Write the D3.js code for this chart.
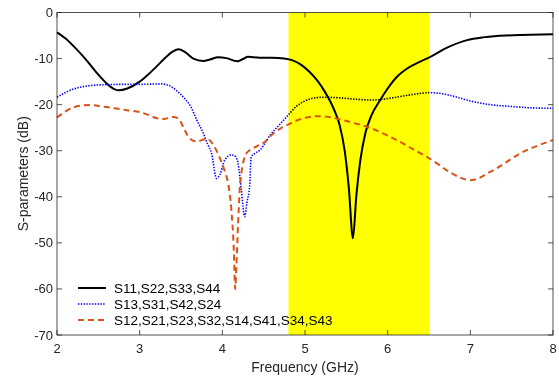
<!DOCTYPE html>
<html>
<head>
<meta charset="utf-8">
<script src="https://d3js.org/d3.v7.min.js"></script>
<style>
  body { margin: 0; background: #fff; }
  text { font-family: "Liberation Sans", Arial, sans-serif; }
</style>
</head>
<body>
<svg id="chart" width="559" height="376"></svg>
<script>
// values (GHz, dB)
const s11Freq = [2.0,2.1,2.2,2.3,2.4,2.5,2.6,2.7,2.75,2.85,3.0,3.1,3.2,3.3,3.4,3.47,3.55,3.65,3.77,3.85,3.95,4.05,4.18,4.25,4.31,4.45,4.6,4.75,4.85,4.95,5.05,5.15,5.25,5.35,5.42,5.48,5.53,5.58,5.62,5.67,5.73,5.8,5.91,6.0,6.11,6.25,6.4,6.51,6.7,6.96,7.15,7.32,7.6,8.0];
const s11Vals = [-4.3,-5.6,-7.3,-9.2,-11.3,-13.5,-15.4,-16.7,-16.9,-16.5,-15.0,-13.5,-11.8,-10.0,-8.5,-8.0,-8.6,-10.0,-10.5,-10.2,-9.7,-9.9,-10.6,-10.1,-9.6,-9.8,-9.8,-10.0,-10.4,-11.3,-12.8,-14.8,-17.5,-21.0,-24.5,-30,-38,-49,-40,-32,-26.2,-22.5,-19.0,-16.5,-14.0,-12.0,-10.6,-9.7,-7.8,-6.0,-5.4,-5.1,-4.9,-4.7];

const s13Freq = [2.0,2.1,2.2,2.35,2.52,2.8,3.0,3.25,3.35,3.45,3.55,3.62,3.69,3.77,3.82,3.87,3.93,3.97,4.03,4.11,4.16,4.19,4.23,4.27,4.30,4.33,4.35,4.40,4.46,4.52,4.58,4.7,4.8,4.9,5.0,5.1,5.22,5.4,5.6,5.8,5.95,6.1,6.3,6.5,6.65,6.8,7.0,7.2,7.5,7.75,8.0];
const s13Vals = [-18.4,-17.4,-16.6,-16.0,-15.7,-15.6,-15.6,-15.5,-15.8,-17.0,-18.8,-20.5,-23.3,-26.2,-28.5,-30.6,-36.0,-35.2,-32.0,-30.9,-31.3,-32.7,-38.5,-44.3,-41,-37.8,-31.3,-30.5,-29.8,-28.2,-26.6,-24.2,-22.2,-20.3,-19.2,-18.6,-18.4,-18.5,-18.8,-19.0,-18.8,-18.4,-17.8,-17.4,-17.6,-18.2,-19.2,-19.9,-20.4,-20.7,-20.8];

const s12Freq = [2.0,2.1,2.2,2.3,2.4,2.55,2.7,2.85,3.0,3.1,3.2,3.3,3.4,3.47,3.53,3.6,3.69,3.81,3.9,3.97,4.03,4.07,4.11,4.14,4.155,4.17,4.19,4.21,4.23,4.26,4.29,4.35,4.41,4.52,4.62,4.72,4.82,4.95,5.05,5.14,5.25,5.38,5.55,5.75,5.95,6.11,6.3,6.47,6.6,6.71,6.85,7.0,7.1,7.2,7.32,7.45,7.6,7.8,8.0];
const s12Vals = [-22.8,-21.5,-20.6,-20.2,-20.1,-20.4,-20.8,-21.2,-21.6,-22.2,-22.9,-23.1,-22.7,-23.0,-25.0,-27.2,-28.0,-27.4,-29.0,-31.6,-34.5,-37.1,-43,-52,-60,-55,-46,-38.5,-34.9,-32,-30.6,-29.7,-29.1,-28.0,-26.2,-25.0,-24.1,-23.1,-22.7,-22.5,-22.6,-23.0,-23.8,-24.8,-26.3,-27.7,-29.6,-31.3,-32.8,-34.2,-35.6,-36.4,-36.0,-35.0,-33.8,-32.3,-30.6,-29.0,-27.7];

const seriesNames = ["S11,S22,S33,S44", "S13,S31,S42,S24", "S12,S21,S23,S32,S14,S41,S34,S43"];
const bandRange = [4.8, 6.5];
const xTicks = [2, 3, 4, 5, 6, 7, 8];
const yTicks = [0, -10, -20, -30, -40, -50, -60, -70];

const svg = d3.select('#chart');
const L = 57, R = 553, T = 12.5, B = 335;
const axisCol = '#262626';

const x = d3.scaleLinear().domain([2, 8]).range([L, R]);
const y = d3.scaleLinear().domain([0, -70]).range([T, B]);

const series = [
  {f: s11Freq, v: s11Vals, color: '#000000', width: 2, dash: null},
  {f: s13Freq, v: s13Vals, color: '#0000ff', width: 1.6, dash: '1.4,1.4'},
  {f: s12Freq, v: s12Vals, color: '#d95319', width: 2, dash: '6,4'}
];

const line = d3.line()
  .x(d => x(d[0]))
  .y(d => y(d[1]))
  .curve(d3.curveMonotoneX);

const gLines = svg.append('g');
series.forEach(s => {
  gLines.append('path')
    .datum(s.f.map((f, i) => [f, s.v[i]]))
    .attr('d', line)
    .attr('fill', 'none')
    .attr('stroke', s.color)
    .attr('stroke-width', s.width)
    .attr('stroke-dasharray', s.dash);
});

//yellow band laid over the curves, multiply keeps them visible (blue goes black like the original)
svg.append('rect')
  .attr('x', x(bandRange[0]))
  .attr('y', T)
  .attr('width', x(bandRange[1]) - x(bandRange[0]))
  .attr('height', B - T)
  .attr('fill', '#ffff00')
  .style('mix-blend-mode', 'multiply');

// axes, ticks inward, box around
const gAxes = svg.append('g');
gAxes.append('rect')
  .attr('x', L).attr('y', T)
  .attr('width', R - L).attr('height', B - T)
  .attr('fill', 'none').attr('stroke', axisCol).attr('stroke-width', 0.8);

const tl = 5;
xTicks.forEach(t => {
  const px = x(t);
  gAxes.append('line').attr('x1', px).attr('x2', px).attr('y1', B).attr('y2', B - tl)
    .attr('stroke', axisCol).attr('stroke-width', 0.8);
  gAxes.append('line').attr('x1', px).attr('x2', px).attr('y1', T).attr('y2', T + tl)
    .attr('stroke', axisCol).attr('stroke-width', 0.8);
  gAxes.append('text').text(t)
    .attr('x', px).attr('y', B + 18)
    .attr('text-anchor', 'middle')
    .attr('font-size', 13).attr('fill', axisCol);
});
yTicks.forEach(t => {
  const py = y(t);
  gAxes.append('line').attr('x1', L).attr('x2', L + tl).attr('y1', py).attr('y2', py)
    .attr('stroke', axisCol).attr('stroke-width', 0.8);
  gAxes.append('line').attr('x1', R).attr('x2', R - tl).attr('y1', py).attr('y2', py)
    .attr('stroke', axisCol).attr('stroke-width', 0.8);
  gAxes.append('text').text(t === 0 ? '0' : '-' + Math.abs(t))
    .attr('x', L - 4).attr('y', py + 4.5)
    .attr('text-anchor', 'end')
    .attr('font-size', 13).attr('fill', axisCol);
});

svg.append('text').text('Frequency (GHz)')
  .attr('x', (L + R) / 2).attr('y', 372)
  .attr('text-anchor', 'middle')
  .attr('font-size', 14).attr('fill', axisCol);

svg.append('text').text('S-parameters (dB)')
  .attr('transform', `translate(28,${(T + B) / 2}) rotate(-90)`)
  .attr('text-anchor', 'middle')
  .attr('font-size', 14).attr('fill', axisCol);

// legend, no box
const gLeg = svg.append('g');
const legY = [288, 304, 320];
series.forEach((s, i) => {
  gLeg.append('line')
    .attr('x1', 78).attr('x2', 106)
    .attr('y1', legY[i]).attr('y2', legY[i])
    .attr('stroke', s.color).attr('stroke-width', s.width)
    .attr('stroke-dasharray', s.dash);
  gLeg.append('text').text(seriesNames[i])
    .attr('x', 114).attr('y', legY[i] + 5)
    .attr('font-size', 13.5).attr('fill', '#000');
});
</script>
</body>
</html>
